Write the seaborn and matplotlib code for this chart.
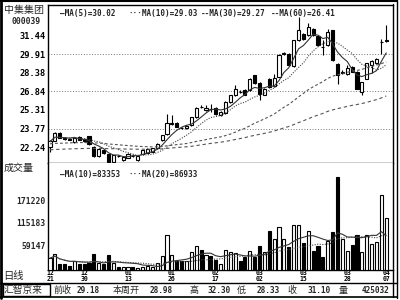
import numpy as np
import pandas as pd
import matplotlib
matplotlib.use("Agg")
import matplotlib.pyplot as plt
from matplotlib.patches import Rectangle
from matplotlib.transforms import blended_transform_factory
import seaborn as sns

# ---------------- data ----------------
opens = [22.25, 22.75, 23.44, 22.96, 22.88, 22.65, 23.08, 22.92, 23.13, 22.25,
         21.50, 21.98, 21.65, 21.02, 21.50, 21.18, 21.35, 21.50, 21.18, 21.65,
         21.78, 21.85, 22.12, 22.80, 23.30, 24.18, 24.23, 23.84, 23.80, 24.04,
         24.72, 25.58, 25.30, 25.42, 25.47, 24.88, 25.02, 25.98, 26.52, 26.82,
         26.93, 26.93, 28.17, 27.55, 26.55, 27.90, 27.25, 28.05, 29.95, 29.96,
         28.90, 31.07, 31.62, 31.48, 32.00, 31.45, 30.52, 30.65, 31.90, 29.14,
         28.36, 28.26, 28.86, 28.45, 26.80, 27.90, 28.98, 29.15, 30.90, 31.00]
closes = [22.70, 23.40, 23.02, 22.92, 22.85, 23.00, 22.82, 22.72, 22.45, 21.50,
          22.10, 21.75, 21.02, 21.55, 21.47, 21.45, 21.70, 21.48, 21.50, 21.98,
          22.10, 22.15, 22.52, 23.20, 24.25, 24.22, 23.92, 23.80, 24.00, 24.70,
          25.50, 25.55, 25.48, 25.40, 24.95, 25.14, 25.97, 26.52, 27.07, 26.78,
          26.58, 27.90, 27.50, 26.66, 27.07, 27.20, 27.95, 29.83, 29.98, 29.00,
          31.07, 31.90, 31.20, 32.20, 31.48, 30.65, 30.48, 31.75, 29.41, 28.17,
          28.40, 28.80, 28.45, 27.07, 27.60, 29.18, 29.35, 29.55, 30.92, 31.10]
highs = [22.85, 23.50, 23.50, 23.05, 22.98, 23.05, 23.12, 22.95, 23.15, 22.30,
         22.15, 22.05, 21.70, 21.60, 21.58, 21.52, 21.75, 21.65, 21.55, 22.02,
         22.15, 22.20, 22.58, 23.25, 25.00, 24.90, 24.28, 23.90, 24.05, 24.75,
         25.55, 25.70, 25.75, 25.80, 25.52, 25.20, 26.02, 26.58, 27.35, 26.95,
         27.00, 27.95, 28.22, 27.60, 27.12, 27.95, 28.25, 29.90, 30.10, 30.00,
         31.12, 32.99, 31.70, 32.50, 32.10, 31.50, 31.10, 32.00, 31.95, 29.20,
         28.60, 29.05, 28.95, 28.50, 27.65, 29.20, 29.40, 29.60, 31.20, 32.30]
lows = [21.85, 22.70, 22.95, 22.85, 22.78, 22.60, 22.78, 22.65, 22.40, 21.45,
        21.45, 21.70, 20.75, 20.95, 21.40, 21.10, 21.30, 21.40, 21.10, 21.60,
        21.72, 21.80, 22.08, 22.75, 23.25, 24.10, 23.88, 23.74, 23.75, 24.00,
        24.68, 25.45, 25.25, 25.10, 24.90, 24.82, 24.98, 25.92, 26.48, 26.70,
        26.52, 26.88, 27.45, 26.10, 26.50, 27.10, 27.20, 28.00, 29.85, 28.95,
        28.85, 31.00, 31.10, 31.40, 31.40, 30.55, 29.85, 30.60, 29.35, 27.49,
        28.30, 28.20, 28.40, 27.00, 26.50, 27.85, 28.33, 29.10, 29.95, 30.90]
volumes = [28000, 38000, 13000, 13000, 9000, 20000, 13000, 13000, 15000, 38000,
           15000, 13000, 37000, 15000, 5000, 5000, 6000, 5000, 4000, 5000,
           8000, 6000, 15000, 34000, 86000, 36000, 22000, 20000, 22000, 42000,
           57000, 47000, 37000, 33000, 24000, 13000, 47000, 42000, 40000, 20000,
           32000, 45000, 32000, 57000, 43000, 96000, 76000, 105000, 76000, 55000,
           111000, 111000, 65000, 94000, 45000, 57000, 32000, 70000, 92000, 229000,
           75000, 45000, 60000, 84000, 42000, 85000, 62000, 68000, 185000, 127000]
# MA30 / MA60 values before enough in-window history exists
ma30_early = [22.51, 22.54, 22.55, 22.57, 22.58, 22.60, 22.61, 22.61, 22.61, 22.58,
              22.57, 22.54, 22.49, 22.46, 22.43, 22.39, 22.36, 22.33, 22.30, 22.28,
              22.27, 22.25, 22.26, 22.28, 22.34, 22.39, 22.44, 22.48, 22.53]
ma60_early = [22.01, 22.04, 22.05, 22.07, 22.08, 22.10, 22.11, 22.12, 22.13, 22.12,
              22.12, 22.12, 22.10, 22.10, 22.09, 22.08, 22.07, 22.07, 22.06, 22.06,
              22.06, 22.06, 22.07, 22.09, 22.13, 22.16, 22.20, 22.23, 22.26, 22.30,
              22.36, 22.42, 22.48, 22.54, 22.59, 22.64, 22.70, 22.78, 22.86, 22.94,
              23.02, 23.12, 23.21, 23.29, 23.37, 23.46, 23.56, 23.69, 23.82, 23.94,
              24.09, 24.26, 24.41, 24.58, 24.74, 24.88, 25.02, 25.19, 25.31]

price_ticks = [31.44, 29.91, 28.38, 26.84, 25.31, 23.77, 22.24]
price_grid = [29.91, 26.84, 23.77]
vol_ticks = [59147, 115183, 171220]
date_idx = [0, 7, 16, 25, 34, 43, 52, 61, 69]
date_months = ["12", "12", "01", "01", "02", "03", "03", "03", "04"]
date_days = ["21", "30", "13", "26", "17", "02", "15", "28", "07"]
stock_name = "中集集团"
stock_code = "000039"
price_ma_labels = ["—MA(5)=30.02", "···MA(10)=29.03", "--MA(30)=29.27", "--MA(60)=26.41"]
vol_ma_labels = ["—MA(10)=83353", "···MA(20)=86933"]
vol_title = "成交量"
period_label = "日线"
status_items = ["汇智京来", "前收", "29.18", "本周开", "28.98", "高", "32.30",
                "低", "28.33", "收", "31.10", "量", "425032"]

# ---------------- derived ----------------
df = pd.DataFrame({"o": opens, "h": highs, "l": lows, "c": closes, "v": volumes})
df["i"] = np.arange(len(df))
df["ma5"] = df["c"].rolling(5, min_periods=1).mean()
df["ma10"] = df["c"].rolling(10, min_periods=1).mean()
ma30 = df["c"].rolling(30).mean().to_numpy()
ma30[:len(ma30_early)] = ma30_early
ma60 = df["c"].rolling(60).mean().to_numpy()
ma60[:len(ma60_early)] = ma60_early
df["ma30"] = ma30
df["ma60"] = ma60
df["vma10"] = df["v"].rolling(10, min_periods=1).mean()
df["vma20"] = df["v"].rolling(20, min_periods=1).mean()
up = (df["c"] >= df["o"]).to_numpy()

# ---------------- style ----------------
sns.set_style("white")
MONO = "DejaVu Sans Mono"
CJK = ["Noto Sans CJK SC", "DejaVu Sans"]
plt.rcParams["font.family"] = [MONO, "Noto Sans CJK SC"]

W, H = 400, 300
fig = plt.figure(figsize=(4, 3), dpi=100)
fig.patch.set_facecolor("white")


def rect(x0, y0, x1, y1):
    return [x0 / W, 1 - y1 / H, (x1 - x0) / W, (y1 - y0) / H]


axp = fig.add_axes(rect(48, 4.5, 393.3, 163))
axv = fig.add_axes(rect(48, 163, 393.3, 269.5))
XLIM = (-0.42, 70.45)
BW = 0.64

# ---- price panel ----
for v in price_grid:
    axp.axhline(v, color="#777777", lw=0.7, ls=(0, (1, 1.8)), zorder=1)

axp.vlines(df["i"], df["l"], df["h"], color="black", lw=0.8, zorder=2)
body_b = np.minimum(df["o"], df["c"])
body_h = np.maximum((df["c"] - df["o"]).abs(), 0.015)
axp.bar(df["i"][up], body_h[up], bottom=body_b[up], width=BW,
        facecolor="white", edgecolor="black", lw=0.8, zorder=3)
axp.bar(df["i"][~up], body_h[~up], bottom=body_b[~up], width=BW,
        facecolor="black", edgecolor="black", lw=0.8, zorder=3)

sns.lineplot(x=df["i"], y=df["ma5"], ax=axp, color="#333333", lw=0.8, legend=False, zorder=4)
sns.lineplot(x=df["i"], y=df["ma10"], ax=axp, color="#444444", lw=0.8,
             linestyle=(0, (1, 1.3)), legend=False, zorder=4)
sns.lineplot(x=df["i"], y=df["ma30"], ax=axp, color="#555555", lw=0.8,
             linestyle=(0, (2.5, 2)), legend=False, zorder=4)
sns.lineplot(x=df["i"], y=df["ma60"], ax=axp, color="#555555", lw=0.8,
             linestyle=(0, (3, 2.5)), legend=False, zorder=4)

axp.set_xlim(*XLIM)
axp.set_ylim(20.92, 34.02)
axp.set_yticks(price_ticks)
axp.set_yticklabels([f"{v:.2f}" for v in price_ticks])
axp.tick_params(axis="y", length=0, pad=1.7, labelsize=6.2, labelcolor="black")
axp.set_xticks([])
axp.set_xlabel("")
axp.set_ylabel("")
for lab in axp.get_yticklabels():
    lab.set_fontfamily(MONO)
    lab.set_fontweight("bold")
for s in ["left", "top", "bottom"]:
    axp.spines[s].set_color("black")
    axp.spines[s].set_linewidth(1.0)
axp.spines["right"].set_visible(False)

# ---- volume panel ----
axv.bar(df["i"][up], df["v"][up], width=BW, facecolor="white", edgecolor="black", lw=0.8, zorder=3)
axv.bar(df["i"][~up], df["v"][~up], width=BW, facecolor="black", edgecolor="black", lw=0.8, zorder=3)
sns.lineplot(x=df["i"], y=df["vma10"], ax=axv, color="#333333", lw=0.8, legend=False, zorder=4)
sns.lineplot(x=df["i"], y=df["vma20"], ax=axv, color="#444444", lw=0.8,
             linestyle=(0, (1, 1.3)), legend=False, zorder=4)
axv.set_xlim(*XLIM)
axv.set_ylim(0, 263000)
axv.set_yticks(vol_ticks)
axv.set_yticklabels([str(v) for v in vol_ticks])
axv.set_xticks([])
axv.tick_params(axis="y", length=0, pad=1.7, labelsize=5.8)
for lab in axv.get_yticklabels():
    lab.set_fontfamily(MONO)
    lab.set_fontweight("bold")
axv.set_xlabel("")
axv.set_ylabel("")
for s in ["left", "bottom"]:
    axv.spines[s].set_color("black")
    axv.spines[s].set_linewidth(1.0)
axv.spines["right"].set_visible(False)
axv.spines["top"].set_visible(False)

# ---- overlay: frame lines and texts in pixel coordinates ----
ov = fig.add_axes([0, 0, 1, 1], zorder=10)
ov.set_xlim(0, W)
ov.set_ylim(H, 0)
ov.axis("off")
ov.patch.set_alpha(0)

ov.plot([0, 397], [0.8, 0.8], color="black", lw=1.5)
ov.plot([1, 1], [0, 297.5], color="black", lw=2.0)
ov.plot([393.3, 393.3], [4.3, 297], color="black", lw=1.0)
ov.plot([396.8, 396.8], [0, 297.5], color="black", lw=1.0)
ov.plot([0, 397], [296.8, 296.8], color="black", lw=1.2)
ov.plot([0, 397], [283.3, 283.3], color="black", lw=1.0)
ov.add_patch(Rectangle((2.5, 284.3), 47.5, 11.5, fill=False, ec="black", lw=1.0))

# date labels: x from the volume axis data scale, y in pixels
tr = blended_transform_factory(axv.transData, ov.transData)
for i, m, d in zip(date_idx, date_months, date_days):
    ov.text(i, 272.6, m, transform=tr, family=MONO, fontsize=4.7, weight="bold",
            ha="center", va="center", color="black")
    ov.text(i, 278.7, d, transform=tr, family=MONO, fontsize=4.7, weight="bold",
            ha="center", va="center", color="black")

ov.text(4, 10.5, stock_name, family=CJK, fontsize=7.2, va="center", ha="left")
ov.text(26, 21.5, stock_code, family=MONO, fontsize=5.8, weight="bold", va="center", ha="center")
ov.text(4, 168, vol_title, family=CJK, fontsize=7.2, va="center", ha="left")
ov.text(3, 276.5, period_label, family=CJK, fontsize=7.4, va="center", ha="left")

for lab, x in zip(price_ma_labels, [60, 128, 201, 271]):
    ov.text(x, 13.8, lab, family=MONO, fontsize=5.5, weight="bold", va="center", ha="left")
for lab, x in zip(vol_ma_labels, [60, 128]):
    ov.text(x, 175, lab, family=MONO, fontsize=5.5, weight="bold", va="center", ha="left")

status_x = [4, 53, 77, 113, 150, 189, 207, 237, 257, 287, 307, 339, 362]
for lab, x in zip(status_items, status_x):
    is_num = lab.replace(".", "").isdigit()
    if is_num:
        ov.text(x, 290.3, lab, family=MONO, fontsize=5.6, weight="bold", va="center", ha="left")
    else:
        ov.text(x, 290.3, lab, family=CJK, fontsize=6.5 if x > 10 else 7.0,
                va="center", ha="left")

fig.savefig("out.png", dpi=100, facecolor="white")
